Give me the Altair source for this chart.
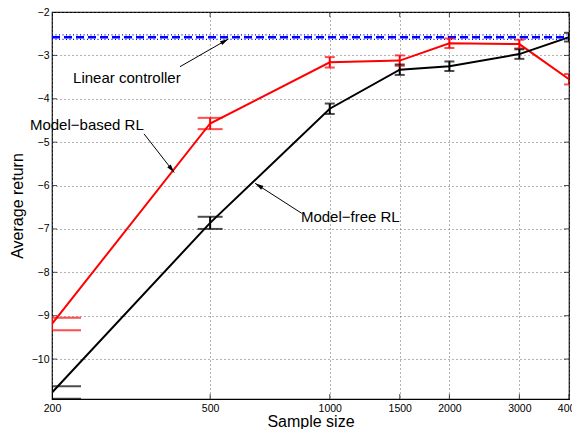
import altair as alt
import pandas as pd

# ---- data ----
sizes = [200, 500, 1000, 1500, 2000, 3000, 4000]
mb_mean = [-9.19, -4.57, -3.16, -3.12, -2.72, -2.74, -3.55]
mb_err = [0.145, 0.13, 0.12, 0.12, 0.11, 0.10, 0.12]
mf_mean = [-10.77, -6.86, -4.23, -3.33, -3.25, -2.97, -2.58]
mf_err = [0.145, 0.14, 0.12, 0.12, 0.11, 0.11, 0.10]
lin_x = [200, 4000]
lin_mean = -2.58
lin_err = 0.053

x_ticks = [200, 500, 1000, 1500, 2000, 3000, 4000]
y_ticks = [-10, -9, -8, -7, -6, -5, -4, -3, -2]

ann_text = ["Linear controller", "Model\u2212based RL", "Model\u2212free RL"]
ann_tx = [226, 176, 846]
ann_ty = [-3.51, -4.61, -6.73]
arr_x1 = [420, 341, 850]
arr_y1 = [-3.26, -4.81, -6.64]
arr_x2 = [556, 406, 649]
arr_y2 = [-2.62, -5.70, -5.95]
arr_angle = [60, 142, 302]

# ---- tables ----
rows = []
for s, m, e in zip(sizes, mb_mean, mb_err):
    rows.append({"x": s, "y": m, "lo": m - e, "hi": m + e, "series": "Model-based RL"})
for s, m, e in zip(sizes, mf_mean, mf_err):
    rows.append({"x": s, "y": m, "lo": m - e, "hi": m + e, "series": "Model-free RL"})
df = pd.DataFrame(rows)

lin_df = pd.DataFrame({"x": lin_x, "y": [lin_mean] * 2,
                       "lo": [lin_mean - lin_err] * 2, "hi": [lin_mean + lin_err] * 2})
ann_df = pd.DataFrame({"t": ann_text, "x": ann_tx, "y": ann_ty})
arr_df = pd.DataFrame({"x1": arr_x1, "y1": arr_y1, "x2": arr_x2, "y2": arr_y2, "a": arr_angle})
xt_df = pd.DataFrame({"x": x_ticks})
yt_df = pd.DataFrame({"y": y_ticks})

xs = alt.Scale(type="log", domain=[200, 4000], nice=False)
ys = alt.Scale(domain=[-10.92, -2], nice=False, zero=False)

xax = alt.Axis(values=x_ticks, format="d", title="Sample size", grid=True, ticks=False,
               labelPadding=4, titleBaseline="alphabetic", titleY=27,
               labelFontSize=10.5, titleFontSize=16,
               gridDash=[1, 3], gridColor="#666", domain=False, labelFlush=False)
yax = alt.Axis(values=y_ticks, format="d", title="Average return", grid=True, ticks=False,
               labelPadding=3, titlePadding=6, labelFontSize=10.5, titleFontSize=16,
               gridDash=[1, 3], gridColor="#666", domain=False)

X = alt.X("x:Q", scale=xs, axis=xax)
Y = alt.Y("y:Q", scale=ys, axis=yax)

colors = alt.Scale(domain=["Model-based RL", "Model-free RL"], range=["#ff0000", "#000000"])
col = alt.Color("series:N", scale=colors, legend=None)

base = alt.Chart(df)

lines = base.mark_line(strokeWidth=2, clip=True).encode(x=X, y=Y, color=col)
bars = base.mark_rule(strokeWidth=2, clip=True).encode(
    x=alt.X("x:Q", scale=xs), y=alt.Y("lo:Q", scale=ys), y2="hi:Q", color=col)

cap_expr = "datum.x <= 200 ? 58 : (datum.x <= 500 ? 25 : 10)"
capsize = alt.Size("cap:Q", scale=None)
caps_lo = base.transform_calculate(cap=cap_expr).mark_tick(
    orient="horizontal", thickness=2, clip=True).encode(
    x=alt.X("x:Q", scale=xs), y=alt.Y("lo:Q", scale=ys), color=col, size=capsize)
caps_hi = base.transform_calculate(cap=cap_expr).mark_tick(
    orient="horizontal", thickness=2, clip=True).encode(
    x=alt.X("x:Q", scale=xs), y=alt.Y("hi:Q", scale=ys), color=col, size=capsize)

lin_base = alt.Chart(lin_df)
lin_main = lin_base.mark_line(color="#0000ff", strokeWidth=2.5, strokeDash=[8, 4], clip=True).encode(
    x=alt.X("x:Q", scale=xs), y=alt.Y("y:Q", scale=ys))
lin_lo = lin_base.mark_line(color="#0000ff", strokeWidth=1.2, strokeDash=[1, 2.5], clip=True).encode(
    x=alt.X("x:Q", scale=xs), y=alt.Y("lo:Q", scale=ys))
lin_hi = lin_base.mark_line(color="#0000ff", strokeWidth=1.2, strokeDash=[1, 2.5], clip=True).encode(
    x=alt.X("x:Q", scale=xs), y=alt.Y("hi:Q", scale=ys))

texts = alt.Chart(ann_df).mark_text(align="left", baseline="middle", fontSize=15,
                                    font="Liberation Sans", color="black").encode(
    x=alt.X("x:Q", scale=xs), y=alt.Y("y:Q", scale=ys), text="t:N")

arr_lines = alt.Chart(arr_df).mark_rule(color="black", strokeWidth=1).encode(
    x=alt.X("x1:Q", scale=xs), y=alt.Y("y1:Q", scale=ys), x2="x2:Q", y2="y2:Q")
arr_heads = alt.Chart(arr_df).mark_point(
    shape="M0,0L0.9,3.4L-0.9,3.4Z", filled=True, color="black", size=25, opacity=1,
    strokeWidth=0).encode(
    x=alt.X("x2:Q", scale=xs), y=alt.Y("y2:Q", scale=ys), angle=alt.Angle("a:Q", scale=None))

# inward axis ticks (MATLAB style box)
xt = alt.Chart(xt_df)
xt_bot = xt.mark_tick(orient="vertical", size=10, thickness=1, color="black", clip=True).encode(
    x=alt.X("x:Q", scale=xs), y=alt.value("height"))
xt_top = xt.mark_tick(orient="vertical", size=10, thickness=1, color="black", clip=True).encode(
    x=alt.X("x:Q", scale=xs), y=alt.value(0))
yt = alt.Chart(yt_df)
yt_left = yt.mark_tick(orient="horizontal", size=10, thickness=1, color="black", clip=True).encode(
    y=alt.Y("y:Q", scale=ys), x=alt.value(0))
yt_right = yt.mark_tick(orient="horizontal", size=10, thickness=1, color="black", clip=True).encode(
    y=alt.Y("y:Q", scale=ys), x=alt.value("width"))

chart = alt.layer(
    lines, xt_bot, xt_top, yt_left, yt_right,
    lin_lo, lin_hi, lin_main, bars, caps_lo, caps_hi, arr_lines, arr_heads, texts
).properties(
    width=517, height=387,
    autosize=alt.AutoSizeParams(type="none"),
    padding={"left": 44, "top": 4, "right": 3, "bottom": 30},
).configure(
    font="Liberation Sans",
).configure_view(
    stroke="black", strokeWidth=1.2
).configure_axis(
    labelColor="black", titleColor="black", titleFontWeight="normal"
)

chart.save("out.html", embed_options={"renderer": "svg", "actions": False})
